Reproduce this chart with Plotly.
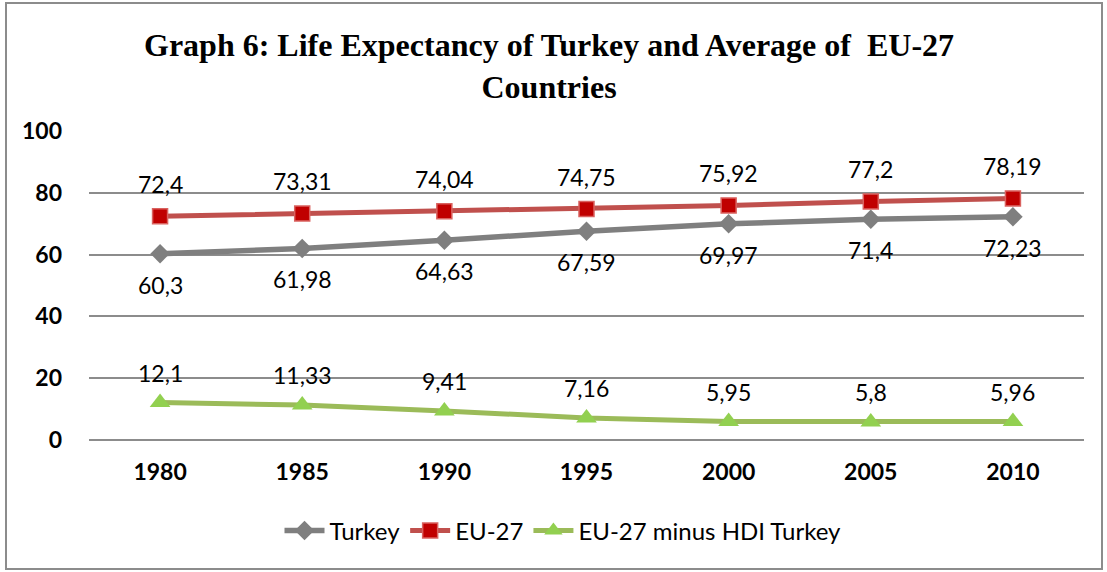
import plotly.graph_objects as go

years = [1980, 1985, 1990, 1995, 2000, 2005, 2010]
turkey = [60.3, 61.98, 64.63, 67.59, 69.97, 71.4, 72.23]
eu27 = [72.4, 73.31, 74.04, 74.75, 75.92, 77.2, 78.19]
diff = [12.1, 11.33, 9.41, 7.16, 5.95, 5.8, 5.96]

def fmt(v):
    s = ("%.2f" % v).rstrip("0").rstrip(".")
    return s.replace(".", ",")

LBL = "Lato, Calibri, sans-serif"
PW, PH = 995, 309  # plot area size in px
L, T = 89, 131

def px_x(x):
    return (x - L) / PW

def px_y(y):
    return (T + PH - y) / PH

fig = go.Figure()
fig.add_trace(go.Scatter(
    x=years, y=turkey, name="Turkey", mode="lines+markers",
    line=dict(color="#7f7f7f", width=5.5),
    marker=dict(symbol="diamond", size=15, color="#7f7f7f", line=dict(width=0)),
))
fig.add_trace(go.Scatter(
    x=years, y=eu27, name="EU-27", mode="lines+markers",
    line=dict(color="#c0504d", width=5),
    marker=dict(symbol="square", size=15, color="#c00000", line=dict(color="#d9625f", width=1.5)),
))
fig.add_trace(go.Scatter(
    x=years, y=diff, name="EU-27 minus HDI Turkey", mode="lines+markers",
    line=dict(color="#9bbb59", width=5),
    marker=dict(symbol="triangle-up", size=18, color="#92d050", line=dict(width=0)),
))

annos = []
for series, shift in ((eu27, 32), (turkey, -31), (diff, 30)):
    for x, v in zip(years, series):
        annos.append(dict(x=x, y=v, xref="x", yref="y", text=fmt(v), showarrow=False,
                          yshift=shift, font=dict(family=LBL, size=23, color="#000")))

annos.append(dict(
    x=px_x(549), y=px_y(66), xref="paper", yref="paper", xanchor="center", yanchor="middle",
    showarrow=False, align="center",
    text="<b>Graph 6: Life Expectancy of Turkey and Average of  EU-27<br>Countries</b>",
    font=dict(family="Liberation Serif, Times New Roman, serif", size=32, color="#000"),
))

fig.update_layout(
    width=1107, height=572,
    margin=dict(l=L, r=1107 - L - PW, t=T, b=572 - T - PH),
    paper_bgcolor="white", plot_bgcolor="white",
    showlegend=True,
    legend=dict(orientation="h", x=px_x(563), xanchor="center", y=px_y(531), yanchor="middle",
                itemwidth=40,
                font=dict(family=LBL, size=24, color="#000")),
    xaxis=dict(type="linear", range=[1977.5, 2012.5], tickvals=years,
               ticktext=[str(y) for y in years],
               showgrid=False, showline=False, zeroline=False, ticks="",
               tickfont=dict(family=LBL, size=23, color="#000", weight="bold"),
               ticklabelstandoff=16),
    yaxis=dict(range=[0, 100], dtick=20, showgrid=True, gridcolor="#8c8c8c", gridwidth=1.5,
               zeroline=True, zerolinecolor="#8c8c8c", zerolinewidth=1.5,
               showline=False, ticks="",
               tickfont=dict(family=LBL, size=23, color="#000", weight="bold"),
               ticklabelstandoff=26),
    annotations=annos,
    shapes=[dict(type="rect", xref="paper", yref="paper",
                 x0=px_x(6), x1=px_x(1102), y0=px_y(569), y1=px_y(3),
                 line=dict(color="#8c8c8c", width=2))],
)

fig.write_html("out.html", config={"displayModeBar": False},
               post_script="document.body.style.margin='0';")
